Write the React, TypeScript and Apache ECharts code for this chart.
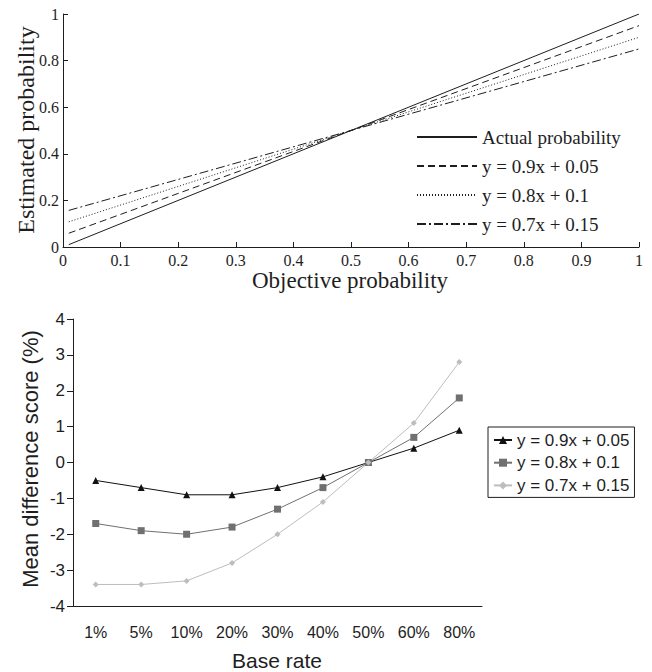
import React, { useEffect, useRef } from "react";
import * as echarts from "echarts";

// ---- Top chart data (straight lines, endpoints)
const objX = [0.01, 1];
const actualY = [0.01, 1];
const fit09Y = [0.059, 0.95];
const fit08Y = [0.108, 0.9];
const fit07Y = [0.157, 0.85];
const topNames = ["Actual probability", "y = 0.9x + 0.05", "y = 0.8x + 0.1", "y = 0.7x + 0.15"];

// ---- Bottom chart data
const baseRates = ["1%", "5%", "10%", "20%", "30%", "40%", "50%", "60%", "80%"];
const diff09 = [-0.5, -0.7, -0.9, -0.9, -0.7, -0.4, 0, 0.4, 0.9];
const diff08 = [-1.7, -1.9, -2.0, -1.8, -1.3, -0.7, 0, 0.7, 1.8];
const diff07 = [-3.4, -3.4, -3.3, -2.8, -2.0, -1.1, 0, 1.1, 2.8];
const bottomLabels = ["y = 0.9x + 0.05", "y = 0.8x + 0.1", "y = 0.7x + 0.15"];
const bottomKeys = ["d09", "d08", "d07"];

const SERIF = "Liberation Serif";
const SANS = "Liberation Sans";
const INK = "#1e1e1e";

const zip = (xs: number[], ys: number[]) => xs.map((x, i) => [x, ys[i]]);

export default function App() {
  const ref = useRef<HTMLDivElement>(null);
  useEffect(() => {
    if (!ref.current) return;
    const chart = echarts.init(ref.current, null, { renderer: "svg" });
    const topLine = (name: string, ys: number[], type: any) => ({
      name,
      type: "line",
      xAxisIndex: 0,
      yAxisIndex: 0,
      data: zip(objX, ys),
      symbol: "none",
      showSymbol: false,
      lineStyle: { color: INK, width: 1, type },
      itemStyle: { color: INK },
    });
    const botLine = (name: string, ys: number[], color: string, symbol: string, size: number) => ({
      name,
      type: "line",
      xAxisIndex: 2,
      yAxisIndex: 1,
      data: ys,
      symbol,
      symbolSize: size,
      lineStyle: { color, width: 1 },
      itemStyle: { color },
    });
    chart.setOption({
      animation: false,
      backgroundColor: "#ffffff",
      grid: [
        { left: 63, top: 14, width: 576, height: 233 },
        { left: 73, top: 319, width: 409, height: 287 },
      ],
      xAxis: [
        {
          type: "value",
          gridIndex: 0,
          min: 0,
          max: 1,
          interval: 0.1,
          splitLine: { show: false },
          axisLine: { lineStyle: { color: INK, width: 1 } },
          axisTick: { inside: true, length: 5, lineStyle: { color: INK } },
          axisLabel: { fontFamily: SERIF, fontSize: 16, color: INK, margin: 5 },
        },
        {
          type: "category",
          gridIndex: 1,
          show: false,
          data: baseRates,
        },
        {
          type: "category",
          gridIndex: 1,
          position: "bottom",
          data: baseRates,
          boundaryGap: true,
          axisLine: { onZero: true, lineStyle: { color: INK, width: 1 } },
          axisTick: { inside: true, length: 5, lineStyle: { color: INK } },
          axisLabel: { show: false },
          splitLine: { show: false },
        },
        {
          type: "category",
          gridIndex: 1,
          position: "bottom",
          data: baseRates,
          boundaryGap: true,
          axisLine: { show: false, onZero: false },
          axisTick: { show: false },
          axisLabel: { fontFamily: SANS, fontSize: 16, lineHeight: 12, color: INK, margin: 20 },
          splitLine: { show: false },
        },
      ],
      yAxis: [
        {
          type: "value",
          gridIndex: 0,
          min: 0,
          max: 1,
          interval: 0.2,
          splitLine: { show: false },
          axisLine: { show: true, lineStyle: { color: INK, width: 1 } },
          axisTick: { show: true, inside: true, length: 5, lineStyle: { color: INK } },
          axisLabel: { fontFamily: SERIF, fontSize: 16, color: INK, margin: 4 },
        },
        {
          type: "value",
          gridIndex: 1,
          min: -4,
          max: 4,
          interval: 1,
          splitLine: { show: false },
          axisLine: { show: true, onZero: false, lineStyle: { color: INK, width: 1 } },
          axisTick: { show: true, length: 6, lineStyle: { color: INK } },
          axisLabel: { fontFamily: SANS, fontSize: 17, color: INK, margin: 8 },
        },
      ],
      legend: [
        {
          data: topNames,
          orient: "vertical",
          left: 416,
          top: 126,
          padding: 0,
          itemWidth: 60,
          itemHeight: 10,
          itemGap: 7,
          selectedMode: false,
          itemStyle: { opacity: 0 },
          textStyle: { fontFamily: SERIF, fontSize: 19, lineHeight: 22, color: INK },
        },
        {
          data: bottomKeys,
          orient: "vertical",
          left: 488,
          top: 427,
          padding: [3, 5, 2, 5],
          itemWidth: 18,
          itemHeight: 10,
          itemGap: 2.7,
          selectedMode: false,
          borderColor: INK,
          borderWidth: 1,
          formatter: (n: string) => bottomLabels[bottomKeys.indexOf(n)],
          textStyle: { fontFamily: SANS, fontSize: 17, lineHeight: 20, color: INK },
        },
      ],
      series: [
        topLine(topNames[0], actualY, "solid"),
        topLine(topNames[1], fit09Y, [7, 4]),
        topLine(topNames[2], fit08Y, [1, 2]),
        topLine(topNames[3], fit07Y, [9, 3, 2, 3]),
        botLine(bottomKeys[0], diff09, "#111111", "triangle", 7),
        botLine(bottomKeys[1], diff08, "#707070", "rect", 7),
        botLine(bottomKeys[2], diff07, "#bdbdbd", "diamond", 6),
      ],
      graphic: [
        {
          type: "text",
          x: 26,
          y: 130,
          rotation: Math.PI / 2,
          style: {
            text: "Estimated probability",
            fontFamily: SERIF,
            fontSize: 24,
            fill: INK,
            align: "center",
            verticalAlign: "middle",
          },
        },
        {
          type: "text",
          x: 350,
          y: 280,
          style: {
            text: "Objective probability",
            fontFamily: SERIF,
            fontSize: 23,
            fill: INK,
            align: "center",
            verticalAlign: "middle",
          },
        },
        {
          type: "text",
          x: 30,
          y: 459,
          rotation: Math.PI / 2,
          style: {
            text: "Mean difference score (%)",
            fontFamily: SANS,
            fontSize: 22,
            fill: INK,
            align: "center",
            verticalAlign: "middle",
          },
        },
        {
          type: "text",
          x: 277,
          y: 660,
          style: {
            text: "Base rate",
            fontFamily: SANS,
            fontSize: 21,
            fill: INK,
            align: "center",
            verticalAlign: "middle",
          },
        },
      ],
    });
    return () => chart.dispose();
  }, []);
  return (
    <div
      ref={ref}
      style={{ position: "absolute", left: 0, top: 0, width: 652, height: 672, background: "#fff" }}
    />
  );
}
